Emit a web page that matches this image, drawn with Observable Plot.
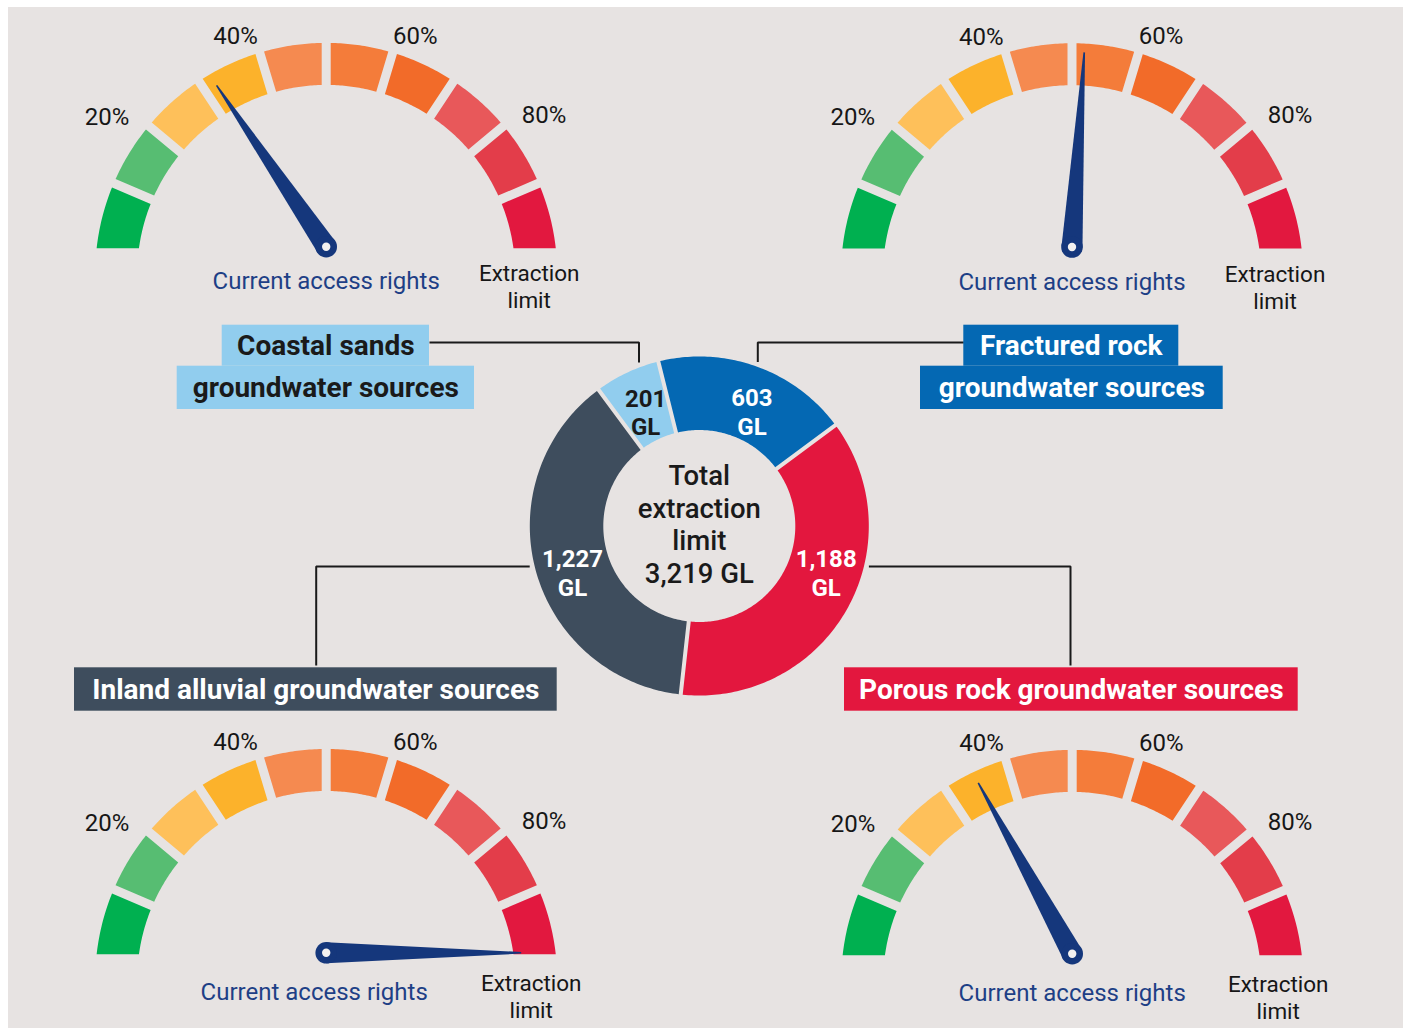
<!DOCTYPE html>
<html><head><meta charset="utf-8">
<script src="https://cdn.jsdelivr.net/npm/d3@7"></script>
<script src="https://cdn.jsdelivr.net/npm/@observablehq/plot@0.6"></script>
<style>
html,body{margin:0;padding:0;background:#fff;}
#chart{position:absolute;left:8px;top:7px;line-height:0;}
</style></head><body><div id="chart"></div>
<script>
// ---------------- DATA ----------------
// Gauges: current access rights as % of the extraction limit
const gaugeNames = ["Coastal sands", "Fractured rock", "Inland alluvial", "Porous rock"];
const accessRightsPct = [31, 52, 100, 34];
const gaugeBandColors = ["#00b050", "#57bd72", "#fec05a", "#fcb22b", "#f58a50", "#f47c3a", "#f26b29", "#e8585a", "#e33d4a", "#e2183f"];
const gaugeTickValues = [20, 40, 60, 80];
const gaugeTickLabels = ["20%", "40%", "60%", "80%"];
const needleCaption = "Current access rights";
const limitCaption = "Extraction\nlimit";

// Donut: extraction limit by groundwater source type (GL), clockwise from top
const sourceNames = ["Fractured rock groundwater sources", "Porous rock groundwater sources", "Inland alluvial groundwater sources", "Coastal sands groundwater sources"];
const sourceLimitsGL = [603, 1188, 1227, 201];
const sourceColors = ["#0468b3", "#e3173e", "#3e4d5d", "#91cdee"];
const sourceTextColors = ["#ffffff", "#ffffff", "#ffffff", "#1a1a1a"];
const centerTitle = "Total\nextraction\nlimit";

// ---------------- LAYOUT ----------------
const W = 1395, H = 1021, OX = 8, OY = 7;
const BG = "#e7e3e2";
const gaugeLayout = [
  {px: 325.7, py: 246.2, capDx: 0, capDy: 35, extDx: 203, extDy: 39.5},
  {px: 1071.5, py: 246.5, capDx: 0, capDy: 35, extDx: 203, extDy: 39.5},
  {px: 325.7, py: 952.3, capDx: -12, capDy: 40, extDx: 205, extDy: 43.5},
  {px: 1071.7, py: 953.2, capDx: 0, capDy: 40, extDx: 206, extDy: 43}
];
const R_OUT = 231, R_IN = 189, DROP = 25.7, GAP = 9;
const NEEDLE_LEN = 195, NEEDLE_BASE = 10.5, NEEDLE_TIP = 0.8;
const donut = {cx: 698.8, cy: 525.5, rOut: 169.5, rIn: 96, gap: 4, start: -14};
// label boxes [source index]: rows of rectangles + connector anchor
const boxes = [
  {src: 3, rows: [{x1: 221.7, x2: 429, y1: 324.7, y2: 365.7, text: "Coastal sands"}, {x1: 176.7, x2: 474, y1: 365.7, y2: 409, text: "groundwater sources"}], conn: {fromX: 429, y: 342, toX: 638.5, side: "top"}},
  {src: 0, rows: [{x1: 963.3, x2: 1178.3, y1: 324.7, y2: 365.7, text: "Fractured rock"}, {x1: 920, x2: 1222.7, y1: 365.7, y2: 409, text: "groundwater sources"}], conn: {fromX: 963.3, y: 342, toX: 757.3, side: "top"}},
  {src: 2, rows: [{x1: 74, x2: 556.7, y1: 667.3, y2: 710.7, text: "Inland alluvial groundwater sources"}], conn: {fromX: 315.7, y: 566, toY: 665, side: "left"}},
  {src: 1, rows: [{x1: 844, x2: 1297.7, y1: 667.3, y2: 710.7, text: "Porous rock groundwater sources"}], conn: {fromX: 1070, y: 566, toY: 665, side: "right"}}
];

// ---------------- GEOMETRY ----------------
const deg = Math.PI / 180;
const thS = Math.asin(DROP / R_OUT) / deg, thE = 180 - thS;
const bandAngle = d3.scaleLinear().domain([0, 100]).range([thS, thE]);
const needleAngle = d3.scaleLinear().domain([0, 100]).range([0, 180]);

const segPts = [], needlePts = [], pivots = [], tickText = [], capText = [], extText = [];
gaugeLayout.forEach((g, gi) => {
  const cutY = g.py + 1.5, cx = g.px, cy = cutY + DROP;
  const P = (r, th) => [cx - r * Math.cos(th * deg), cy - r * Math.sin(th * deg)];
  const nb = gaugeBandColors.length;
  gaugeBandColors.forEach((col, k) => {
    const a0 = bandAngle(k * 100 / nb), a1 = bandAngle((k + 1) * 100 / nb);
    const span = r => {
      const h = Math.asin(GAP / 2 / r) / deg;
      const c = Math.asin(DROP / r) / deg;
      return [k === 0 ? c : a0 + h, k === nb - 1 ? 180 - c : a1 - h];
    };
    const [os, oe] = span(R_OUT), [is, ie] = span(R_IN);
    const id = `g${gi}b${k}`, n = 24;
    for (let i = 0; i <= n; i++) { const [x, y] = P(R_OUT, os + (oe - os) * i / n); segPts.push({id, x, y, fill: col}); }
    for (let i = 0; i <= n; i++) { const [x, y] = P(R_IN, ie + (is - ie) * i / n); segPts.push({id, x, y, fill: col}); }
  });
  gaugeTickValues.forEach((v, i) => {
    const th = bandAngle(v) + (v < 50 ? -4.2 : 3.8);
    const r = 242 + 34 * Math.abs(Math.cos(th * deg));
    const [x, y] = P(r, th);
    tickText.push({x, y, text: gaugeTickLabels[i]});
  });
  const phi = needleAngle(accessRightsPct[gi]) * deg;
  const ux = -Math.cos(phi), uy = -Math.sin(phi), nx = -uy, ny = ux;
  const tx = g.px + NEEDLE_LEN * ux, ty = g.py + NEEDLE_LEN * uy;
  const id = "n" + gi;
  needlePts.push(
    {id, x: g.px + NEEDLE_BASE * nx, y: g.py + NEEDLE_BASE * ny},
    {id, x: tx + NEEDLE_TIP * nx, y: ty + NEEDLE_TIP * ny},
    {id, x: tx - NEEDLE_TIP * nx, y: ty - NEEDLE_TIP * ny},
    {id, x: g.px - NEEDLE_BASE * nx, y: g.py - NEEDLE_BASE * ny});
  pivots.push({x: g.px, y: g.py});
  capText.push({x: g.px + g.capDx, y: g.py + g.capDy, text: needleCaption});
  extText.push({x: g.px + g.extDx, y: g.py + g.extDy, text: limitCaption});
});

// donut
const total = d3.sum(sourceLimitsGL);
const donutAngle = d3.scaleLinear().domain([0, total]).range([donut.start, donut.start + 360]);
const DP = (r, a) => [donut.cx + r * Math.sin(a * deg), donut.cy - r * Math.cos(a * deg)];
const slicePts = [], sliceLabels = [];
let cum = 0;
sourceLimitsGL.forEach((v, i) => {
  const a0 = donutAngle(cum), a1 = donutAngle(cum + v);
  cum += v;
  const hO = Math.asin(donut.gap / 2 / donut.rOut) / deg, hI = Math.asin(donut.gap / 2 / donut.rIn) / deg;
  const id = "s" + i, n = Math.ceil(a1 - a0) + 2;
  for (let j = 0; j <= n; j++) { const [x, y] = DP(donut.rOut, a0 + hO + (a1 - a0 - 2 * hO) * j / n); slicePts.push({id, x, y, fill: sourceColors[i]}); }
  for (let j = 0; j <= n; j++) { const [x, y] = DP(donut.rIn, a1 - hI - (a1 - a0 - 2 * hI) * j / n); slicePts.push({id, x, y, fill: sourceColors[i]}); }
  const mid = (a0 + a1) / 2, spanA = a1 - a0;
  // large slices: label just below the horizontal on their side; smaller slices: near mid-angle
  const la = spanA > 90 ? ((((mid % 360) + 360) % 360) < 180 ? 110 : 250) : mid + (spanA > 45 ? 5 : 0);
  const [lx, ly] = DP(spanA > 90 ? 135 : 126, la);
  sliceLabels.push({x: lx, y: ly, text: d3.format(",")(v) + "\nGL", fill: sourceTextColors[i]});
});

// boxes + connectors
const boxRects = [], boxTexts = [], connPts = [];
boxes.forEach((b, bi) => {
  b.rows.forEach(r => {
    boxRects.push({...r, fill: sourceColors[b.src]});
    boxTexts.push({x: (r.x1 + r.x2) / 2, y: (r.y1 + r.y2) / 2 + 0.5, text: r.text, fill: sourceTextColors[b.src]});
  });
  const c = b.conn, id = "c" + bi;
  if (c.side === "top") {
    const endY = donut.cy - Math.sqrt(donut.rOut ** 2 - (c.toX - donut.cx) ** 2) - 5;
    connPts.push({id, x: c.fromX, y: c.y}, {id, x: c.toX, y: c.y}, {id, x: c.toX, y: endY});
  } else {
    const dx = Math.sqrt(donut.rOut ** 2 - (c.y - donut.cy) ** 2) + 5;
    const edgeX = donut.cx + (c.side === "left" ? -dx : dx);
    connPts.push({id, x: edgeX, y: c.y}, {id, x: c.fromX, y: c.y}, {id, x: c.fromX, y: c.toY});
  }
});

const FONT = "Roboto, 'Noto Sans', sans-serif";
const chart = Plot.plot({
  width: W, height: H, margin: 0,
  x: {domain: [OX, OX + W], range: [0, W], axis: null},
  y: {domain: [OY, OY + H], range: [0, H], axis: null},
  color: {type: "identity"},
  style: {background: BG, fontFamily: FONT},
  marks: [
    Plot.line(segPts, {x: "x", y: "y", z: "id", fill: "fill", stroke: null, curve: "linear"}),
    Plot.line(slicePts, {x: "x", y: "y", z: "id", fill: "fill", stroke: null, curve: "linear"}),
    Plot.line(connPts, {x: "x", y: "y", z: "id", stroke: "#1a1a1a", strokeWidth: 2, strokeLinejoin: "miter", strokeLinecap: "butt"}),
    Plot.rect(boxRects, {x1: "x1", x2: "x2", y1: "y1", y2: "y2", fill: "fill"}),
    Plot.text(boxTexts, {x: "x", y: "y", text: "text", fill: "fill", fontSize: 28, fontWeight: 700}),
    Plot.line(needlePts, {x: "x", y: "y", z: "id", fill: "#15377c", stroke: null}),
    Plot.dot(pivots, {x: "x", y: "y", r: 10.8, fill: "#15377c", stroke: null}),
    Plot.dot(pivots, {x: "x", y: "y", r: 4.2, fill: "#f3f1f0", stroke: null}),
    Plot.text(tickText, {x: "x", y: "y", text: "text", fill: "#161616", fontSize: 24}),
    Plot.text(capText, {x: "x", y: "y", text: "text", fill: "#1e3f86", fontSize: 24}),
    Plot.text(extText, {x: "x", y: "y", text: "text", fill: "#161616", fontSize: 22.5, lineHeight: 1.2}),
    Plot.text(sliceLabels, {x: "x", y: "y", text: "text", fill: "fill", fontSize: 24, fontWeight: 700, lineHeight: 1.19}),
    Plot.text([{x: donut.cx, y: donut.cy - 2.5, text: centerTitle + "\n" + d3.format(",")(total) + " GL"}], {x: "x", y: "y", text: "text", fill: "#1a1a1a", fontSize: 27.5, fontWeight: 500, lineHeight: 1.18})
  ]
});
document.getElementById("chart").appendChild(chart);
</script>
</body></html>
